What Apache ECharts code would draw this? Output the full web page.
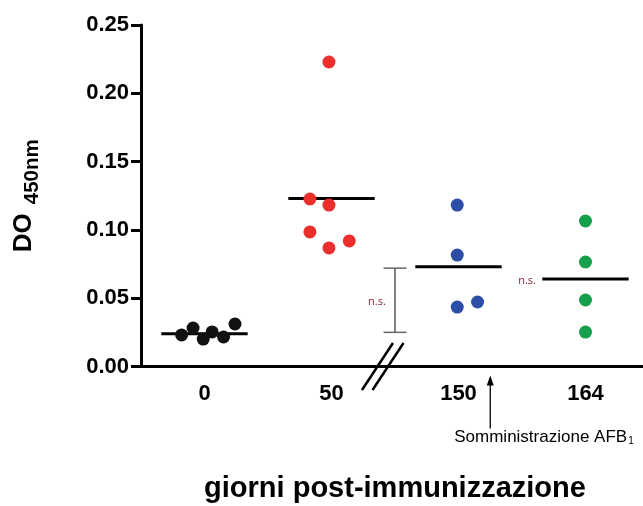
<!DOCTYPE html>
<html>
<head>
<meta charset="utf-8">
<script src="https://cdn.jsdelivr.net/npm/echarts@6/dist/echarts.min.js"></script>
<style>html,body{margin:0;padding:0;background:#fff}#c{width:643px;height:506px}</style>
</head>
<body>
<div id="c"></div>
<script>
// ---- data ----
const categories = ['0', '50', '150', '164'];
const day0   = [0.0231, 0.0282, 0.0201, 0.0253, 0.0216, 0.0311];
const day50  = [0.1226, 0.1182, 0.0985, 0.0868, 0.0919, 0.2229];
const day150 = [0.1182, 0.0816, 0.0435, 0.0472];
const day164 = [0.1065, 0.0765, 0.0487, 0.0252];
const groupMeans = [0.024, 0.123, 0.073, 0.064];
const nsRange = [0.025, 0.072];
// horizontal jitter of points inside each group (fraction of a category band)
const jitter0   = [-0.18, -0.09, -0.01, 0.06, 0.15, 0.24];
const jitter50  = [-0.17, -0.02, -0.17, -0.02, 0.14, -0.02];
const jitter150 = [-0.01, -0.01, -0.01, 0.15];
const jitter164 = [0, 0, 0, 0];

const groups = [day0, day50, day150, day164];
const jitters = [jitter0, jitter50, jitter150, jitter164];
const colors = ['#111111', '#ea2f2c', '#2c4ea6', '#16a04b'];

function pts(i) {
  return groups[i].map((v, k) => [i + 0.5 + jitters[i][k], v]);
}

const chart = echarts.init(document.getElementById('c'), null, {renderer: 'canvas'});

const FONT = 'Liberation Sans, Arial, sans-serif';

const option = {
  animation: false,
  backgroundColor: '#ffffff',
  grid: {left: 141, width: 508, top: 25, bottom: 139.5, containLabel: false, outerBoundsMode: 'none'},
  xAxis: [
    {
      type: 'category',
      data: categories,
      boundaryGap: true,
      axisLine: {lineStyle: {color: '#000', width: 3}},
      axisTick: {alignWithLabel: true, length: 10, lineStyle: {color: '#000', width: 3}},
      axisLabel: {color: '#000', fontFamily: FONT, fontWeight: 'bold', fontSize: 22, margin: 16},
      splitLine: {show: false},
      name: 'giorni post-immunizzazione',
      nameLocation: 'middle',
      nameGap: 108,
      nameTextStyle: {color: '#000', fontFamily: FONT, fontWeight: 'bold', fontSize: 29}
    },
    {type: 'value', min: 0, max: 4, show: false}
  ],
  yAxis: {
    type: 'value',
    min: 0, max: 0.25, interval: 0.05,
    axisLine: {show: true, lineStyle: {color: '#000', width: 3}},
    axisTick: {show: true, length: 10, lineStyle: {color: '#000', width: 3}},
    axisLabel: {color: '#000', fontFamily: FONT, fontWeight: 'bold', fontSize: 22, margin: 12,
      formatter: v => v.toFixed(2)},
    splitLine: {show: false},
    name: '{a|DO}{b|450nm}',
    nameLocation: 'middle',
    nameGap: 98,
    nameTextStyle: {
      rich: {
        a: {fontFamily: FONT, fontWeight: 'bold', fontSize: 26, color: '#000', verticalAlign: 'bottom', padding: [0, 0, 6, 0]},
        b: {fontFamily: FONT, fontWeight: 'bold', fontSize: 20.5, color: '#000', verticalAlign: 'bottom', padding: [0, 0, 0, 9]}
      }
    }
  },
  series: [
    {
      type: 'custom', xAxisIndex: 1, z: 2,
      data: groupMeans.map((m, i) => [i, m]),
      renderItem: (params, api) => {
        const i = api.value(0), m = api.value(1);
        const p1 = api.coord([i + 0.5 - 0.34, m]);
        const p2 = api.coord([i + 0.5 + 0.34, m]);
        return {type: 'line', shape: {x1: p1[0], y1: p1[1], x2: p2[0], y2: p2[1]},
          style: {stroke: '#000', lineWidth: 3}};
      }
    },
    ...[0, 1, 2, 3].map(i => ({
      type: 'scatter', xAxisIndex: 1, z: 3,
      data: pts(i), symbol: 'circle', symbolSize: 13,
      itemStyle: {color: colors[i], opacity: 1}
    })),
    {
      type: 'custom', xAxisIndex: 1, z: 4, clip: false, silent: true,
      data: [[0, 0]],
      renderItem: (params, api) => {
        const children = [];
        // n.s. bracket
        const top = api.coord([2.0, nsRange[1]]);
        const bot = api.coord([2.0, nsRange[0]]);
        const capL = api.coord([2.0 - 0.09, 0])[0], capR = api.coord([2.0 + 0.09, 0])[0];
        children.push({type: 'line', shape: {x1: top[0], y1: top[1], x2: bot[0], y2: bot[1]}, style: {stroke: '#000', lineWidth: 1}});
        children.push({type: 'line', shape: {x1: capL, y1: top[1], x2: capR, y2: top[1]}, style: {stroke: '#666', lineWidth: 1.5}});
        children.push({type: 'line', shape: {x1: capL, y1: bot[1], x2: capR, y2: bot[1]}, style: {stroke: '#666', lineWidth: 1.5}});
        const t1 = api.coord([1.858, 0.047]);
        children.push({type: 'text', x: t1[0], y: t1[1], style: {text: 'n.s.', fill: '#8a2433', font: '11px "Open Sans", sans-serif', align: 'center', verticalAlign: 'middle'}});
        const t2 = api.coord([3.04, 0.0626]);
        children.push({type: 'text', x: t2[0], y: t2[1], style: {text: 'n.s.', fill: '#8a2433', font: '11px "Open Sans", sans-serif', align: 'center', verticalAlign: 'middle'}});
        // axis break marks
        [1.862, 1.945].forEach(xv => {
          const c = api.coord([xv, 0]);
          children.push({type: 'line', shape: {x1: c[0] + 15.5, y1: c[1] - 23.5, x2: c[0] - 15.5, y2: c[1] + 23.5}, style: {stroke: '#000', lineWidth: 2.5}});
        });
        // arrow + annotation
        const a = api.coord([2.75, 0]);
        children.push({type: 'line', shape: {x1: a[0], y1: a[1] + 14, x2: a[0], y2: a[1] + 62}, style: {stroke: '#000', lineWidth: 1.3}});
        children.push({type: 'polygon', shape: {points: [[a[0], a[1] + 9], [a[0] - 3.5, a[1] + 19], [a[0] + 3.5, a[1] + 19]]}, style: {fill: '#000'}});
        children.push({type: 'text', x: a[0] - 36, y: a[1] + 71, style: {
          text: '{m|Somministrazione AFB}{s|1}', align: 'left', verticalAlign: 'middle',
          rich: {
            m: {fontFamily: FONT, fontSize: 17, fill: '#000', verticalAlign: 'bottom'},
            s: {fontFamily: FONT, fontSize: 10, fill: '#000', verticalAlign: 'bottom', padding: [6, 0, 0, 1]}
          }
        }});
        return {type: 'group', children};
      }
    }
  ]
};
chart.setOption(option);
</script>
</body>
</html>
